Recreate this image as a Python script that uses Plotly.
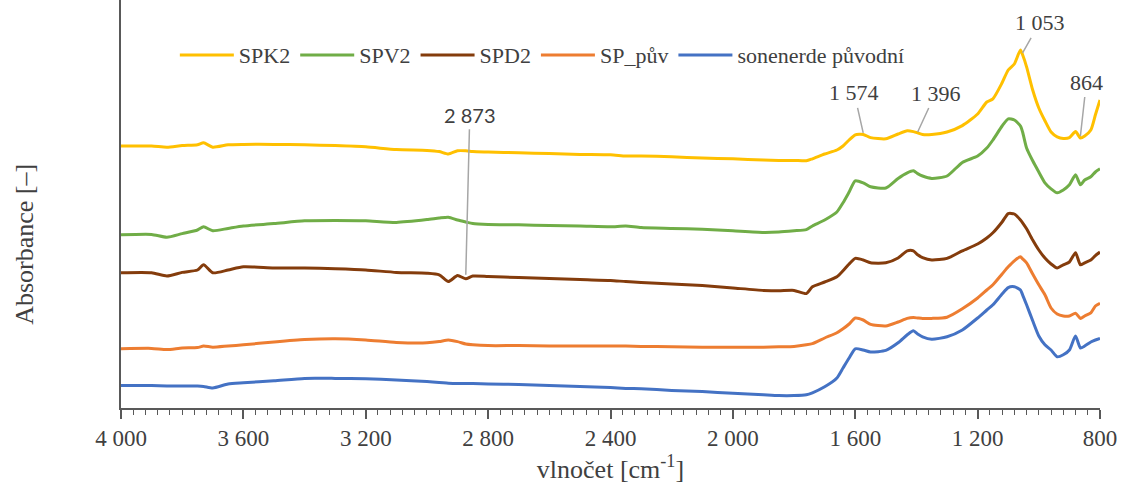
import plotly.graph_objects as go

wavenumber = [4000, 3900, 3850, 3800, 3750, 3730, 3700, 3650, 3600, 3500, 3400, 3300, 3200, 3100,
              3000, 2960, 2930, 2900, 2873, 2850, 2800, 2700, 2600, 2500, 2400, 2350, 2300, 2200,
              2100, 2000, 1900, 1850, 1800, 1760, 1740, 1700, 1660, 1640, 1620, 1600, 1574, 1550,
              1500, 1460, 1430, 1410, 1396, 1380, 1350, 1300, 1250, 1200, 1170, 1150, 1120, 1100,
              1080, 1060, 1053, 1040, 1020, 1000, 980, 960, 940, 920, 900, 880, 864, 850, 830,
              815, 800]

spk2 = [0.655, 0.655, 0.652, 0.656, 0.658, 0.663, 0.652, 0.658, 0.659, 0.659, 0.658, 0.656, 0.653, 0.646,
        0.644, 0.641, 0.635, 0.643, 0.643, 0.641, 0.640, 0.638, 0.636, 0.634, 0.633, 0.630, 0.630, 0.628,
        0.625, 0.623, 0.620, 0.619, 0.619, 0.618, 0.623, 0.635, 0.645, 0.655, 0.670, 0.683, 0.684, 0.676,
        0.673, 0.685, 0.693, 0.691, 0.688, 0.684, 0.684, 0.690, 0.706, 0.735, 0.765, 0.773, 0.813, 0.845,
        0.860, 0.895, 0.883, 0.853, 0.795, 0.750, 0.718, 0.690, 0.678, 0.674, 0.676, 0.691, 0.675, 0.680,
        0.695, 0.733, 0.770]

spv2 = [0.433, 0.434, 0.427, 0.436, 0.445, 0.453, 0.443, 0.449, 0.455, 0.461, 0.468, 0.469, 0.468, 0.464,
        0.471, 0.475, 0.477, 0.470, 0.465, 0.461, 0.459, 0.458, 0.456, 0.455, 0.453, 0.455, 0.451, 0.449,
        0.447, 0.443, 0.439, 0.440, 0.443, 0.446, 0.455, 0.470, 0.490, 0.513, 0.540, 0.568, 0.563, 0.553,
        0.550, 0.574, 0.588, 0.593, 0.586, 0.580, 0.574, 0.580, 0.614, 0.630, 0.650, 0.670, 0.705, 0.723,
        0.720, 0.705, 0.690, 0.650, 0.618, 0.590, 0.563, 0.548, 0.538, 0.545, 0.558, 0.583, 0.558, 0.570,
        0.578, 0.590, 0.598]

spd2 = [0.338, 0.338, 0.330, 0.339, 0.345, 0.358, 0.338, 0.345, 0.353, 0.350, 0.350, 0.348, 0.345, 0.339,
        0.337, 0.333, 0.316, 0.331, 0.323, 0.330, 0.329, 0.326, 0.324, 0.321, 0.319, 0.316, 0.314, 0.310,
        0.306, 0.300, 0.294, 0.293, 0.294, 0.286, 0.303, 0.315, 0.328, 0.343, 0.360, 0.374, 0.370, 0.363,
        0.363, 0.375, 0.393, 0.393, 0.383, 0.376, 0.370, 0.374, 0.393, 0.410, 0.425, 0.438, 0.465, 0.486,
        0.485, 0.470, 0.463, 0.448, 0.420, 0.395, 0.375, 0.360, 0.350, 0.358, 0.365, 0.388, 0.358, 0.363,
        0.370, 0.381, 0.390]

sp_puv = [0.148, 0.149, 0.146, 0.150, 0.151, 0.155, 0.152, 0.155, 0.158, 0.165, 0.171, 0.173, 0.170, 0.164,
          0.163, 0.166, 0.170, 0.166, 0.160, 0.158, 0.156, 0.156, 0.155, 0.155, 0.155, 0.155, 0.154, 0.153,
          0.152, 0.152, 0.152, 0.153, 0.154, 0.158, 0.161, 0.175, 0.188, 0.198, 0.210, 0.225, 0.220, 0.209,
          0.205, 0.215, 0.224, 0.226, 0.225, 0.224, 0.224, 0.227, 0.248, 0.275, 0.295, 0.308, 0.335, 0.353,
          0.368, 0.378, 0.373, 0.363, 0.335, 0.308, 0.283, 0.250, 0.235, 0.230, 0.230, 0.237, 0.224, 0.230,
          0.238, 0.255, 0.262]

sonenerde = [0.056, 0.056, 0.055, 0.055, 0.055, 0.054, 0.050, 0.060, 0.063, 0.068, 0.074, 0.074, 0.073, 0.070,
             0.066, 0.064, 0.062, 0.061, 0.061, 0.061, 0.060, 0.059, 0.056, 0.054, 0.051, 0.049, 0.048, 0.044,
             0.041, 0.037, 0.033, 0.031, 0.031, 0.033, 0.038, 0.053, 0.075, 0.100, 0.125, 0.148, 0.145, 0.140,
             0.144, 0.163, 0.183, 0.193, 0.185, 0.178, 0.172, 0.178, 0.195, 0.225, 0.245, 0.258, 0.285, 0.301,
             0.303, 0.295, 0.283, 0.258, 0.218, 0.180, 0.158, 0.145, 0.128, 0.133, 0.145, 0.180, 0.150, 0.155,
             0.165, 0.170, 0.174]

series_names = ["SPK2", "SPV2", "SPD2", "SP_pův", "sonenerde původní"]
series_colors = ["#FFC000", "#70AD47", "#843C0C", "#ED7D31", "#4472C4"]

tick_values = [4000, 3600, 3200, 2800, 2400, 2000, 1600, 1200, 800]
tick_labels = ["4 000", "3 600", "3 200", "2 800", "2 400", "2 000", "1 600", "1 200", "800"]

peak_labels = ["2 873", "1 574", "1 396", "1 053", "864"]
peak_x = [2873, 1574, 1396, 1053, 864]
peak_y = [0.333, 0.688, 0.690, 0.888, 0.680]
peak_ax = [4, -9, 18, 17, 6]
peak_ay = [-160, -40, -39, -30, -54]
peak_fonts = ["Lato", "Liberation Serif", "Liberation Serif", "Liberation Serif", "Liberation Serif"]

SERIF = "Liberation Serif, Times New Roman, serif"
AXIS_COLOR = "#595959"
TEXT_COLOR = "#404040"

fig = go.Figure()
for name, color, vals in zip(series_names, series_colors, [spk2, spv2, spd2, sp_puv, sonenerde]):
    fig.add_trace(go.Scatter(x=wavenumber, y=vals, mode="lines", name=name,
                             line=dict(color=color, width=3, shape="spline", smoothing=0.6)))

for lab, px, py, ax, ay, fnt in zip(peak_labels, peak_x, peak_y, peak_ax, peak_ay, peak_fonts):
    fig.add_annotation(x=px, y=py, text=lab, showarrow=True, arrowhead=0, arrowwidth=1.5,
                       arrowcolor="#A6A6A6", ax=ax, ay=ay, borderpad=2,
                       font=dict(family=fnt, size=22 if fnt != "Lato" else 20, color=TEXT_COLOR))

fig.add_annotation(text="Absorbance [–]", xref="paper", yref="paper", x=-0.098, y=0.40,
                   showarrow=False, textangle=-90, xanchor="center", yanchor="middle",
                   font=dict(family=SERIF, size=26, color=TEXT_COLOR))

fig.update_layout(
    width=1122, height=485,
    margin=dict(l=121, r=22, t=0, b=77),
    paper_bgcolor="white", plot_bgcolor="white",
    showlegend=True,
    legend=dict(orientation="h", x=0.055, y=0.865, xanchor="left", yanchor="middle",
                font=dict(family=SERIF, size=22, color=TEXT_COLOR),
                bgcolor="rgba(0,0,0,0)", itemwidth=54, tracegroupgap=0),
    xaxis=dict(range=[4000, 800], tickmode="array", tickvals=tick_values, ticktext=tick_labels,
               ticks="outside", ticklen=9, tickwidth=1.5, tickcolor=AXIS_COLOR,
               showline=True, linecolor=AXIS_COLOR, linewidth=1.5, showgrid=False, zeroline=False,
               tickfont=dict(family=SERIF, size=23, color=TEXT_COLOR),
               minor=dict(tickmode="linear", tick0=800, dtick=40, ticks="outside", ticklen=5,
                          tickwidth=1, tickcolor=AXIS_COLOR, showgrid=False),
               title=dict(text="vlnočet [cm<sup>-1</sup>]", standoff=4,
                          font=dict(family=SERIF, size=26, color=TEXT_COLOR))),
    xaxis2=dict(range=[4000, 800], overlaying="x", anchor="y", side="bottom",
                tickmode="array", tickvals=tick_values, ticks="inside", ticklen=9, tickwidth=1.5,
                tickcolor=AXIS_COLOR, showticklabels=False, showline=False, showgrid=False,
                zeroline=False),
    yaxis=dict(range=[0, 1.02], showticklabels=False, ticks="", showgrid=False, zeroline=False,
               showline=True, linecolor=AXIS_COLOR, linewidth=1.5),
)

fig.write_html("out.html")
